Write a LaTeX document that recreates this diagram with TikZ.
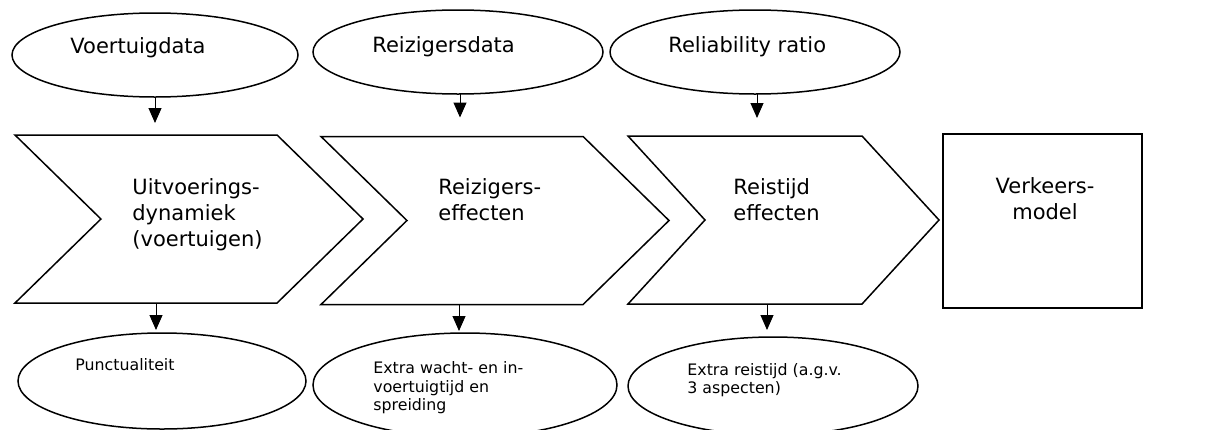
\documentclass[tikz,border=0pt]{standalone}
\usepackage{fontspec}
\setmainfont{DejaVu Sans}
\usetikzlibrary{shapes,arrows.meta,positioning}
\tikzstyle{chevron} = [signal, draw, signal from=west, signal to=east,
    line width=0.75pt, inner sep=0pt, outer sep=0pt,
    minimum width=174pt, minimum height=84pt, signal pointer angle=88.7]
\tikzstyle{cloud} = [draw, ellipse, line width=0.75pt, inner sep=0pt, outer sep=0pt,
    minimum width=145pt, minimum height=42pt]
\tikzstyle{block} = [rectangle, draw, line width=0.75pt, outer sep=0pt,
    minimum width=99.5pt, minimum height=87pt]
\tikzstyle{bigtext} = [inner sep=0pt, align=left, font=\fontsize{10.5}{13}\selectfont]
\tikzstyle{smalltext} = [inner sep=0pt, align=left, font=\fontsize{7.9}{9.25}\selectfont]
\tikzstyle{flow} = [-{Triangle[width=6.5pt,length=7.5pt]}, line width=0.5pt, black]

\begin{document}
\begin{tikzpicture}[x=0.5pt, y=-0.5pt]
  \useasboundingbox (0,0) rectangle (1208,429);
  % Place nodes
  \node [chevron] (chev1) at (189,219) {};
  \node [chevron] (chev2) at (495,220.5) {};
  \node [chevron, minimum width=155.5pt, signal pointer angle=95] (chev3) at (783.5,220) {};
  \node [block] (model) at (1042.5,221) {};
  \node [cloud, minimum width=143pt] (top1) at (155,55) {};
  \node [cloud] (top2) at (458,52) {};
  \node [cloud] (top3) at (755,52) {};
  \node [cloud, minimum width=144pt, minimum height=48pt] (bot1) at (162,381) {};
  \node [cloud, minimum width=152pt, minimum height=52pt] (bot2) at (465,385) {};
  \node [cloud, minimum height=49pt] (bot3) at (773,386) {};
  % Place texts (base = last line)
  \node [bigtext, anchor=base west] (top1txt) at (70,53) {Voertuigdata};
  \node [bigtext, anchor=base west] (top2txt) at (372,52) {Reizigersdata};
  \node [bigtext, anchor=base west] (top3txt) at (668,52) {Reliability ratio};
  \node [bigtext, anchor=base west] (chev1txt) at (132,246) {Uitvoerings-\\dynamiek\\(voertuigen)};
  \node [bigtext, anchor=base west] (chev2txt) at (438,220) {Reizigers-\\effecten};
  \node [bigtext, anchor=base west] (chev3txt) at (733,220) {Reistijd\\effecten};
  \node [bigtext, align=center, anchor=base] (modeltxt) at (1045,219) {Verkeers-\\model};
  \node [smalltext, anchor=base west] (bot1txt) at (75,370) {Punctualiteit};
  \node [smalltext, anchor=base west] (bot2txt) at (373,410.5) {Extra wacht- en in-\\voertuigtijd en\\spreiding};
  \node [smalltext, anchor=base west] (bot3txt) at (687,393.5) {Extra reistijd (a.g.v.\\3 aspecten)};
  % Draw edges
  \draw [flow, shorten >=6pt] (top1.south) -- (top1.south |- chev1.north);
  \draw [flow, shorten >=9.5pt] (top2.south -| 460,0) -- (chev2.north -| 460,0);
  \draw [flow, shorten >=9pt] (top3.south -| 757,0) -- (chev3.north -| 757,0);
  \draw [flow, shorten >=1.5pt] (chev1.south -| 156,0) -- (bot1.north -| 156,0);
  \draw [flow, shorten >=1pt] (chev2.south -| 459,0) -- (bot2.north -| 459,0);
  \draw [flow, shorten >=3.5pt] (chev3.south -| 767,0) -- (bot3.north -| 767,0);
\end{tikzpicture}
\end{document}
